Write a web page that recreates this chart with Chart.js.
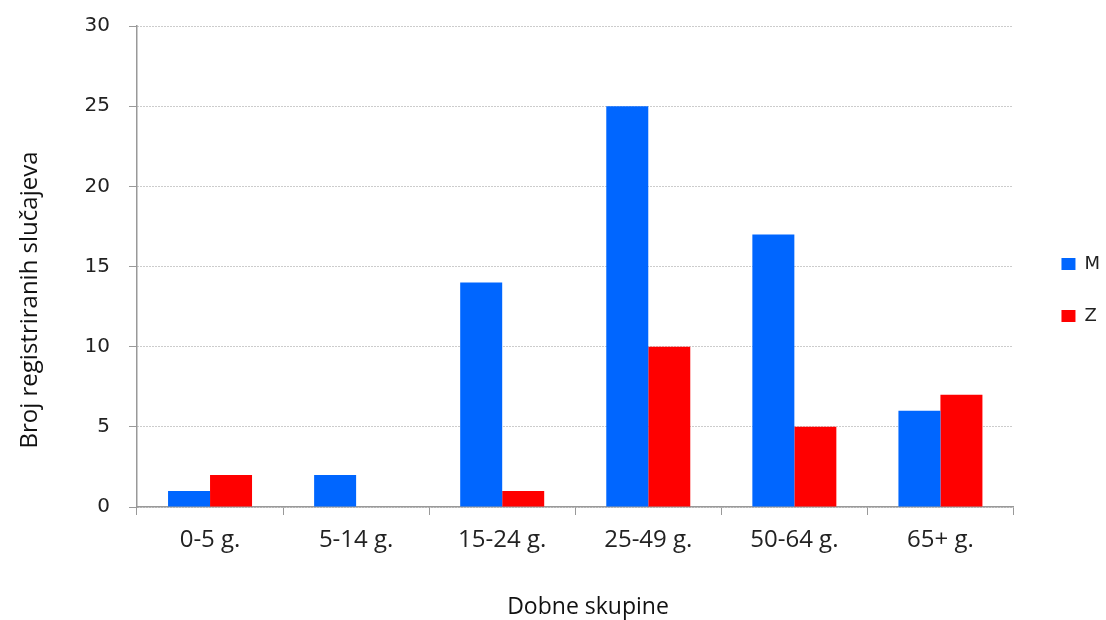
<!DOCTYPE html>
<html>
<head>
<meta charset="utf-8">
<script src="https://cdn.jsdelivr.net/npm/chart.js@4"></script>
<style>
html,body{margin:0;padding:0;background:#fff;}
#wrap{width:1106px;height:620px;position:relative;}
</style>
</head>
<body>
<div id="wrap"><canvas id="c" width="1106" height="620"></canvas></div>
<script>
const categories = ["0-5 g.", "5-14 g.", "15-24 g.", "25-49 g.", "50-64 g.", "65+ g."];
const seriesM = [1, 2, 14, 25, 17, 6];
const seriesZ = [2, 0, 1, 10, 5, 7];
const seriesNames = ["M", "Z"];
const yTitle = "Broj registriranih slučajeva";
const xTitle = "Dobne skupine";

const titlesPlugin = {
  id: 'titles',
  afterLayout(chart) {
    const lg = chart.legend;
    if (lg) {
      const dx = 14, dy = -33;
      lg.left += dx; lg.right += dx;
      lg.top += dy; lg.bottom += dy;
    }
  },
  afterDraw(chart) {
    const ctx = chart.ctx;
    ctx.save();
    ctx.fillStyle = '#111';
    ctx.textAlign = 'center';
    ctx.textBaseline = 'middle';
    ctx.font = '23px "Open Sans"';
    ctx.fillText(xTitle, 588, 607);
    ctx.translate(30, 300);
    ctx.rotate(-Math.PI / 2);
    ctx.font = '24px "Open Sans"';
    ctx.fillText(yTitle, 0, 0);
    ctx.restore();
  }
};

new Chart(document.getElementById('c'), {
  type: 'bar',
  data: {
    labels: categories,
    datasets: [
      {label: seriesNames[0], data: seriesM, backgroundColor: '#0066ff', borderWidth: 0},
      {label: seriesNames[1], data: seriesZ, backgroundColor: '#ff0000', borderWidth: 0}
    ]
  },
  plugins: [titlesPlugin],
  options: {
    responsive: false,
    animation: false,
    devicePixelRatio: 1,
    layout: {padding: {top: 26, left: 0, right: 10, bottom: 0}},
    datasets: {bar: {categoryPercentage: 0.575, barPercentage: 1.0}},
    plugins: {
      legend: {
        position: 'right',
        align: 'center',
        labels: {
          boxWidth: 14, boxHeight: 12, padding: 34,
          color: '#222',
          font: {family: 'DejaVu Sans', size: 18}
        }
      },
      tooltip: {enabled: false}
    },
    scales: {
      x: {
        grid: {display: true, drawOnChartArea: false, offset: true, tickLength: 8, color: '#999', tickColor: '#999'},
        border: {display: true, color: '#999', width: 1.5},
        ticks: {color: '#222', font: {family: 'Open Sans', size: 24}, padding: 11, maxRotation: 0},
        title: {display: false},
        afterFit: s => { s.height = 113; s.paddingLeft = 0; s.paddingRight = 0; }
      },
      y: {
        min: 0, max: 30,
        ticks: {stepSize: 5, color: '#222', font: {family: 'DejaVu Sans', size: 20}, padding: 19},
        grid: {color: '#999', tickColor: '#999', tickLength: 8, lineWidth: 1},
        border: {display: true, color: '#999', width: 1.5, dash: [1, 2]},
        title: {display: false},
        afterFit: s => { s.width = 137; s.paddingTop = 0; s.paddingBottom = 0; }
      }
    }
  }
});
</script>
</body>
</html>
